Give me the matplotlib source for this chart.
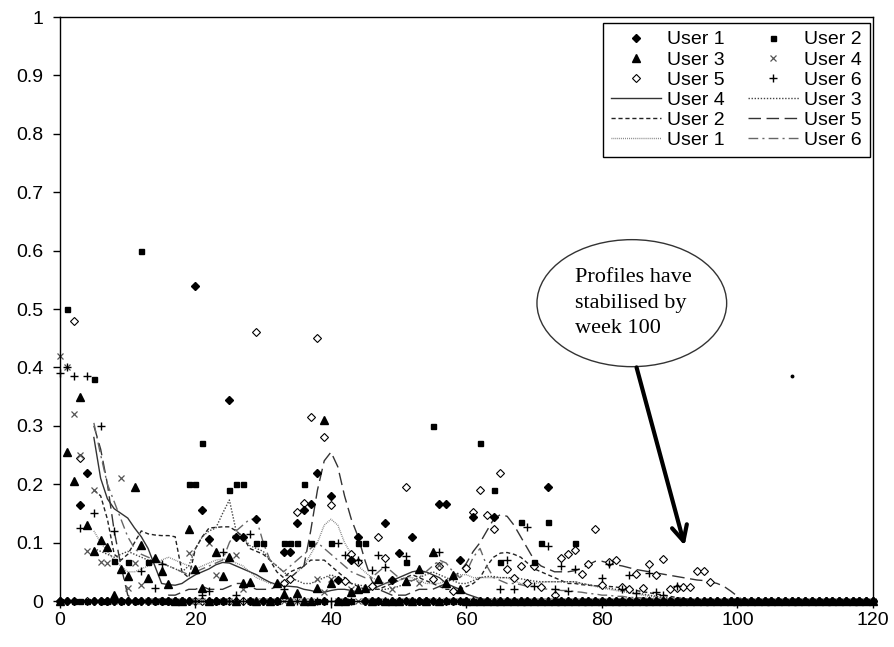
import numpy as np
import matplotlib
matplotlib.use("Agg")
import matplotlib.pyplot as plt
from matplotlib.patches import Ellipse

plt.rcParams['font.family'] = ['Liberation Sans', 'DejaVu Sans']

# weekly profile distance per user (weeks 0..120)
weeks = np.arange(0, 121)

u1 = [0, 0, 0, 0.165, 0.22, 0, 0, 0, 0, 0,
      0, 0, 0, 0, 0, 0, 0, 0, 0, 0,
      0.54, 0.156, 0.106, 0, 0, 0.345, 0.11, 0.11, 0, 0.14,
      0, 0, 0, 0.084, 0.084, 0.134, 0.155, 0.166, 0.22, 0,
      0.18, 0.036, 0, 0.071, 0.11, 0, 0, 0, 0.134, 0.036,
      0.083, 0, 0.11, 0, 0, 0, 0.166, 0.166, 0, 0.071,
      0, 0.143, 0, 0, 0.143, 0, 0, 0, 0, 0,
      0, 0, 0.195, 0, 0, 0, 0, 0, 0, 0,
      0, 0, 0, 0, 0, 0, 0, 0, 0, 0,
      0, 0, 0, 0, 0, 0, 0, 0, 0, 0,
      0, 0, 0, 0, 0, 0, 0, 0, 0, 0,
      0, 0, 0, 0, 0, 0, 0, 0, 0, 0,
      0]
u2 = [0, 0.50, 0, 0, 0, 0.38, 0, 0, 0.068, 0,
      0.067, 0, 0.60, 0.067, 0, 0, 0, 0, 0, 0.2,
      0.2, 0.27, 0, 0, 0, 0.19, 0.2, 0.2, 0, 0.1,
      0.1, 0, 0, 0.1, 0.1, 0.1, 0.2, 0.1, 0, 0,
      0.1, 0, 0, 0, 0.1, 0.1, 0, 0, 0, 0,
      0, 0.067, 0, 0, 0, 0.30, 0, 0, 0, 0,
      0, 0, 0.27, 0, 0.19, 0.066, 0, 0, 0.135, 0,
      0.067, 0.1, 0.135, 0, 0, 0, 0.1, 0, 0, 0,
      0, 0, 0, 0, 0, 0, 0, 0, 0, 0,
      0, 0, 0, 0, 0, 0, 0, 0, 0, 0,
      0, 0, 0, 0, 0, 0, 0, 0, 0, 0,
      0, 0, 0, 0, 0, 0, 0, 0, 0, 0,
      0]
u3 = [0, 0.255, 0.205, 0.35, 0.13, 0.085, 0.105, 0.093, 0.01, 0.055,
      0.042, 0.195, 0.096, 0.04, 0.074, 0.052, 0.029, 0, 0, 0.123,
      0.054, 0.023, 0, 0.084, 0.042, 0.076, 0, 0.03, 0.033, 0,
      0.058, 0, 0.03, 0.012, 0, 0.014, 0, 0, 0.023, 0.31,
      0.03, 0, 0, 0.015, 0.02, 0.022, 0, 0.037, 0, 0,
      0, 0.035, 0, 0.055, 0, 0.084, 0, 0.03, 0.044, 0.02,
      0, 0, 0, 0, 0, 0, 0, 0, 0, 0,
      0, 0, 0, 0, 0, 0, 0, 0, 0, 0,
      0, 0, 0, 0, 0, 0, 0, 0, 0, 0,
      0, 0, 0, 0, 0, 0, 0, 0, 0, 0,
      0, 0, 0, 0, 0, 0, 0, 0, 0, 0,
      0, 0, 0, 0, 0, 0, 0, 0, 0, 0,
      0]
u4 = [0.42, 0.40, 0.32, 0.25, 0.085, 0.19, 0.066, 0.065, 0, 0.21,
      0.022, 0.065, 0.027, 0, 0, 0, 0, 0, 0, 0.083,
      0, 0, 0.1, 0.045, 0, 0, 0.078, 0.02, 0, 0,
      0, 0, 0, 0, 0, 0, 0, 0, 0.037, 0.016,
      0.037, 0, 0, 0.02, 0, 0, 0, 0, 0, 0.02,
      0, 0, 0, 0.03, 0, 0, 0.062, 0, 0, 0,
      0, 0, 0, 0, 0, 0, 0, 0, 0, 0,
      0, 0, 0, 0, 0, 0, 0, 0, 0, 0,
      0, 0, 0, 0, 0, 0, 0, 0, 0, 0,
      0, 0, 0, 0, 0, 0, 0, 0, 0, 0,
      0, 0, 0, 0, 0, 0, 0, 0, 0, 0,
      0, 0, 0, 0, 0, 0, 0, 0, 0, 0,
      0]
u5 = [0, 0, 0.48, 0.245, 0, 0, 0, 0, 0, 0,
      0, 0, 0, 0, 0, 0, 0, 0, 0, 0,
      0, 0, 0, 0, 0, 0, 0, 0, 0, 0.46,
      0, 0, 0, 0.03, 0.037, 0.153, 0.168, 0.315, 0.45, 0.28,
      0.165, 0, 0.035, 0.08, 0.066, 0, 0.025, 0.11, 0.074, 0,
      0, 0.195, 0, 0, 0, 0.037, 0.06, 0, 0.017, 0,
      0.057, 0.152, 0.19, 0.148, 0.123, 0.22, 0.055, 0.04, 0.06, 0.03,
      0.06, 0.024, 0, 0.01, 0.074, 0.08, 0.087, 0.046, 0.064, 0.123,
      0.028, 0.066, 0.07, 0.024, 0.02, 0.047, 0.022, 0.063, 0.045, 0.072,
      0.02, 0.022, 0.024, 0.024, 0.052, 0.052, 0.032, 0, 0, 0,
      0, 0, 0, 0, 0, 0, 0, 0, 0, 0,
      0, 0, 0, 0, 0, 0, 0, 0, 0, 0,
      0]
u6 = [0.39, 0.40, 0.385, 0.125, 0.385, 0.15, 0.30, 0, 0.12, 0,
      0, 0, 0.052, 0, 0.023, 0.063, 0, 0, 0, 0,
      0, 0.01, 0.017, 0, 0.084, 0, 0.01, 0, 0.115, 0,
      0, 0, 0, 0.02, 0, 0, 0, 0, 0, 0,
      0, 0.1, 0.079, 0, 0.07, 0, 0.053, 0.079, 0.058, 0,
      0, 0.077, 0, 0, 0, 0, 0.084, 0, 0, 0,
      0, 0, 0, 0, 0, 0.02, 0.07, 0.02, 0, 0.127,
      0.025, 0, 0.095, 0.02, 0.06, 0.017, 0.054, 0, 0, 0,
      0.04, 0.063, 0, 0.02, 0.044, 0.013, 0, 0.048, 0.015, 0.01,
      0, 0.025, 0, 0, 0, 0, 0, 0, 0, 0,
      0, 0, 0, 0, 0, 0, 0, 0, 0, 0,
      0, 0, 0, 0, 0, 0, 0, 0, 0, 0,
      0]

# lone point near week 108
extra_week = [108]
extra_val = [0.385]

# smoothed profile lines, starting at week 5
line_start = 5
l4 = [0.28, 0.21, 0.175, 0.158, 0.15, 0.142, 0.125, 0.11, 0.09, 0.06,
      0.03, 0.028, 0.027, 0.03, 0.038, 0.045, 0.05, 0.055, 0.062, 0.066,
      0.065, 0.06, 0.055, 0.05, 0.045, 0.038, 0.032, 0.028, 0.026, 0.025,
      0.024, 0.02, 0.018, 0.015, 0.015, 0.018, 0.02, 0.02, 0.018, 0.015,
      0.015, 0.02, 0.025, 0.03, 0.035, 0.04, 0.045, 0.05, 0.052, 0.05,
      0.045, 0.04, 0.03, 0.025, 0.02, 0.012, 0.008, 0.004, 0.002, 0]
l3 = [0.09, 0.085, 0.08, 0.075, 0.08, 0.085, 0.08, 0.075, 0.07, 0.07,
      0.065, 0.06, 0.055, 0.05, 0.06, 0.09, 0.11, 0.12, 0.125, 0.15,
      0.173, 0.12, 0.11, 0.095, 0.09, 0.085, 0.07, 0.06, 0.05, 0.04,
      0.035, 0.03, 0.03, 0.035, 0.04, 0.045, 0.04, 0.035, 0.03, 0.028,
      0.025, 0.022, 0.02, 0.02, 0.022, 0.025, 0.03, 0.035, 0.04, 0.045,
      0.05, 0.045, 0.04, 0.035, 0.03, 0.03, 0.035, 0.04, 0.042, 0.042,
      0.04, 0.04, 0.04, 0.038, 0.036, 0.034, 0.033, 0.033, 0.033, 0.033,
      0.033, 0.033, 0.03, 0.028, 0.026, 0.024, 0.022, 0.02, 0.018, 0.016,
      0.014, 0.012, 0.01, 0.008, 0.006, 0.005, 0.004, 0.003, 0.002, 0]
l2 = [0.19, 0.18, 0.14, 0.08, 0.07, 0.08, 0.1, 0.12, 0.115, 0.113,
      0.112, 0.112, 0.11, 0.05, 0.04, 0.09, 0.11, 0.125, 0.126, 0.127,
      0.127, 0.12, 0.11, 0.09, 0.085, 0.08, 0.07, 0.05, 0.04, 0.05,
      0.055, 0.06, 0.07, 0.07, 0.07, 0.06, 0.05, 0.04, 0.03, 0.025,
      0.02, 0.02, 0.02, 0.025, 0.03, 0.035, 0.04, 0.045, 0.04, 0.035,
      0.03, 0.025, 0.02, 0.02, 0.02, 0.025, 0.03, 0.04, 0.06, 0.075,
      0.082, 0.083, 0.08, 0.075, 0.065, 0.055, 0.05, 0.045, 0.04, 0.035,
      0.03, 0.03, 0.028, 0.027, 0.026, 0.025, 0.025, 0.024, 0.022, 0.02,
      0.018, 0.016, 0.014, 0.012, 0.01, 0.008, 0.006, 0.004, 0.003, 0]
l5 = [0.3, 0.26, 0.2, 0.12, 0.06, 0.01, 0, 0, 0, 0,
      0.005, 0.01, 0.01, 0.015, 0.02, 0.02, 0.025, 0.02, 0.02, 0.02,
      0.025, 0.03, 0.03, 0.025, 0.02, 0.02, 0.02, 0.025, 0.03, 0.04,
      0.05, 0.06, 0.12, 0.19, 0.24, 0.255, 0.23, 0.18, 0.14, 0.11,
      0.07, 0.035, 0.02, 0.015, 0.01, 0.01, 0.01, 0.015, 0.02, 0.02,
      0.02, 0.025, 0.03, 0.04, 0.05, 0.065, 0.085, 0.1, 0.12, 0.14,
      0.148, 0.145, 0.13, 0.11, 0.09, 0.07, 0.06, 0.055, 0.05, 0.05,
      0.05, 0.052, 0.056, 0.062, 0.068, 0.068, 0.065, 0.062, 0.06, 0.057,
      0.054, 0.052, 0.05, 0.048, 0.046, 0.044, 0.042, 0.04, 0.038, 0.036,
      0.035, 0.033, 0.03, 0.025, 0.017, 0.008, 0]
l1 = [0.12, 0.1, 0.085, 0.07, 0.06, 0.05, 0.05, 0.055, 0.06, 0.065,
      0.07, 0.075, 0.07, 0.065, 0.06, 0.055, 0.06, 0.065, 0.07, 0.072,
      0.07, 0.065, 0.06, 0.05, 0.04, 0.035, 0.03, 0.03, 0.035, 0.04,
      0.05, 0.06, 0.08, 0.1, 0.13, 0.14, 0.13, 0.1, 0.08, 0.06,
      0.05, 0.04, 0.035, 0.03, 0.03, 0.035, 0.04, 0.04, 0.035, 0.03,
      0.03, 0.03, 0.035, 0.04, 0.045, 0.045, 0.04, 0.04, 0.04, 0.04,
      0.04, 0.04, 0.035, 0.03, 0.03, 0.03, 0.032, 0.033, 0.033, 0.033,
      0.033, 0.033, 0.03, 0.028, 0.025, 0.022, 0.02, 0.018, 0.016, 0.014,
      0.012, 0.01, 0.008, 0.006, 0.005, 0.004, 0.003, 0.002, 0.001, 0]
l6 = [0.305, 0.25, 0.2, 0.17, 0.14, 0.11, 0.09, 0.08, 0.075, 0.07,
      0.065, 0.06, 0.055, 0.05, 0.045, 0.05, 0.055, 0.06, 0.065, 0.07,
      0.1, 0.12, 0.13, 0.14, 0.14, 0.1, 0.07, 0.06, 0.05, 0.06,
      0.07, 0.08, 0.09, 0.1, 0.09, 0.08, 0.07, 0.06, 0.05, 0.045,
      0.04, 0.04, 0.05, 0.06, 0.05, 0.04, 0.035, 0.035, 0.04, 0.05,
      0.06, 0.07, 0.065, 0.05, 0.04, 0.05, 0.075, 0.09, 0.06, 0.04,
      0.035, 0.03, 0.03, 0.028, 0.025, 0.025, 0.022, 0.02, 0.02, 0.018,
      0.018, 0.016, 0.015, 0.013, 0.012, 0.01, 0.01, 0.008, 0.008, 0.006,
      0.006, 0.005, 0.004, 0.003, 0.002, 0.001, 0]

fig = plt.figure(figsize=(8.95, 6.47), dpi=100)
ax = fig.add_axes([60 / 895, 46 / 647, 813 / 895, 584 / 647])

ink = 'black'
# scatter series (filled diamonds on top so they dominate the zero row)
s1, = ax.plot(weeks, u1, ls='none', marker='D', ms=4.2, color=ink, clip_on=False, zorder=2.6, label='User 1')
s2, = ax.plot(weeks, u2, ls='none', marker='s', ms=3.6, color=ink, clip_on=False, zorder=2.3, label='User 2')
s3, = ax.plot(weeks, u3, ls='none', marker='^', ms=6.2, color=ink, clip_on=False, zorder=2.4, label='User 3')
s4, = ax.plot(weeks, u4, ls='none', marker='x', ms=5, mew=0.9, color='#555555', clip_on=False, zorder=2.2, label='User 4')
s5, = ax.plot(weeks, u5, ls='none', marker='D', ms=4.5, mfc='white', mec=ink, mew=0.8, clip_on=False, zorder=2.1, label='User 5')
s6, = ax.plot(weeks, u6, ls='none', marker='+', ms=6, mew=1.0, color=ink, clip_on=False, zorder=2.5, label='User 6')
ax.plot(extra_week, extra_val, ls='none', marker='o', ms=1.8, color=ink)

# smoothed lines
def line_weeks(vals):
    return np.arange(line_start, line_start + len(vals))

k4, = ax.plot(line_weeks(l4), l4, ls='-', lw=1.0, color='#333333', label='User 4')
k2, = ax.plot(line_weeks(l2), l2, ls=(0, (3, 2)), lw=1.0, color='#222222', label='User 2')
k1, = ax.plot(line_weeks(l1), l1, ls=(0, (0.6, 0.8)), lw=1.0, color='#777777', label='User 1')
k3, = ax.plot(line_weeks(l3), l3, ls=(0, (1, 1.2)), lw=1.0, color='#444444', label='User 3')
k5, = ax.plot(line_weeks(l5), l5, ls=(0, (9, 4)), lw=1.0, color='#333333', label='User 5')
k6, = ax.plot(line_weeks(l6), l6, ls=(0, (7, 3, 1.5, 3)), lw=1.0, color='#666666', label='User 6')

ax.set_xlim(0, 120)
ax.set_ylim(0, 1)
ax.set_xticks(np.arange(0, 121, 20))
ax.set_yticks(np.arange(0, 1.01, 0.1))
ax.set_yticklabels(['0', '0.1', '0.2', '0.3', '0.4', '0.5', '0.6', '0.7', '0.8', '0.9', '1'])
ax.tick_params(direction='out', length=5, width=1, labelsize=14, colors='black')
ax.tick_params(axis='y', pad=7)
ax.tick_params(axis='x', pad=3)
for sp in ax.spines.values():
    sp.set_linewidth(1)
    sp.set_color('black')

# legend fills column by column
order = [s1, s3, s5, k4, k2, k1, s2, s4, s6, k3, k5, k6]
leg = ax.legend(order, [h.get_label() for h in order], ncol=2, loc='upper right',
                bbox_to_anchor=(0.9963, 0.9897), borderaxespad=0,
                fontsize=14, frameon=True, fancybox=False, edgecolor='black',
                framealpha=1, numpoints=1, handlelength=2.6, handletextpad=0.3,
                labelspacing=0.13, columnspacing=1.2, borderpad=0.4)
leg.get_frame().set_linewidth(1)

# callout
ell = Ellipse((84.4, 0.51), 28, 0.2175, facecolor='white', edgecolor='#333333', lw=1, zorder=5)
ax.add_patch(ell)
ax.text(84.6, 0.51, 'Profiles have\nstabilised by\nweek 100', family=['Liberation Serif', 'DejaVu Serif'],
        fontsize=16, ha='center', va='center', multialignment='left', linespacing=1.45, zorder=6)
ax.annotate('', xy=(92.2, 0.095), xytext=(85.1, 0.40),
            arrowprops=dict(arrowstyle='->,head_length=1.1,head_width=0.55', lw=3, color='black',
                            shrinkA=0, shrinkB=0), zorder=6)

fig.savefig('out.png', dpi=100)
